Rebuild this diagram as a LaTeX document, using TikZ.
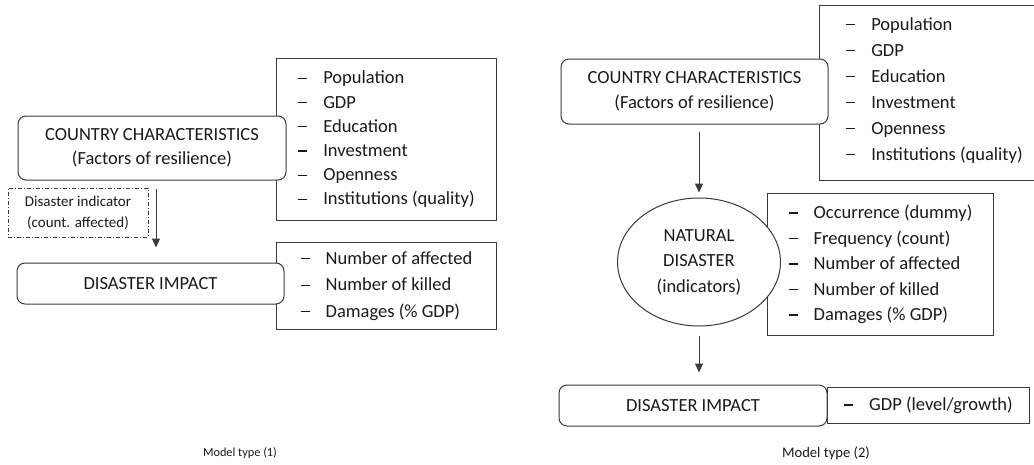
\documentclass[tikz,border=0pt]{standalone}
\usepackage{fontspec}
\setmainfont{Carlito}
\usetikzlibrary{arrows.meta, positioning, shapes.geometric}
\definecolor{inkgray}{HTML}{1A1A1A}
\definecolor{linegray}{HTML}{3A3A3A}

% one list entry: dash, gap, text
\newcommand{\entry}[1]{\makebox[25pt][l]{\rule[5pt]{9pt}{1.2pt}}#1}

\begin{document}
\begin{tikzpicture}[
  x=1pt, y=-1pt,
  every node/.style={text=inkgray},
  bigfont/.style={font=\fontsize{18.5}{24.5}\selectfont},
  factbox/.style={draw=linegray, fill=white, rounded corners=8pt, line width=1pt,
    align=center, bigfont},
  listbox/.style={draw=linegray, line width=1pt, align=left, anchor=north west,
    inner xsep=20pt, inner ysep=0pt, font=\fontsize{18.5}{25.5}\selectfont},
  hazard/.style={draw=linegray, fill=white, ellipse, line width=1pt, align=center,
    inner sep=0pt, font=\fontsize{18.5}{25.5}\selectfont},
  indicator/.style={draw=linegray, line width=0.8pt,
    dash pattern=on 4pt off 2pt on 1pt off 2pt, align=center,
    font=\fontsize{15}{21}\selectfont},
  caption/.style={font=\fontsize{12.3}{14}\selectfont},
  arrow/.style={-{Triangle[length=9pt,width=8pt]}, line width=1pt, draw=linegray}
]
\useasboundingbox (0,0) rectangle (1034,464);

% ---- model type (1) ----
\node[listbox, minimum width=220, minimum height=162,
  font=\fontsize{18.5}{24.2}\selectfont] (factsL) at (276,58)
  {\entry{Population}\\ \entry{GDP}\\ \entry{Education}\\ \entry{Investment}\\
   \entry{Openness}\\ \entry{Institutions (quality)}};
\node[listbox, minimum width=220, minimum height=87,
  font=\fontsize{18.5}{26.5}\selectfont] (lossL) at (276,242)
  {\entry{Number of affected}\\ \entry{Number of killed}\\ \entry{Damages (\% GDP)}};

\node[factbox, minimum width=268, minimum height=64] (countryL) at (152,148)
  {COUNTRY CHARACTERISTICS\\(Factors of resilience)};
\node[factbox, minimum width=267, minimum height=41] (impactL) at (150.5,283.5)
  {DISASTER IMPACT};
\node[indicator, minimum width=140, minimum height=49] (indic) at (78,212.5)
  {Disaster indicator\\(count. affected)};

\draw[arrow, shorten <=8pt, shorten >=15pt] ([xshift=4]countryL.south)
  -- ([xshift=4]countryL.south |- impactL.north);

\node[caption] (capL) at (240,453) {Model type (1)};

% ---- model type (2) ----
\node[listbox, minimum width=230, minimum height=175,
  font=\fontsize{18.5}{26}\selectfont] (factsR) at (819,5)
  {\entry{Population}\\ \entry{GDP}\\ \entry{Education}\\ \entry{Investment}\\
   \entry{Openness}\\ \entry{Institutions (quality)}\\[-18pt]};
\node[listbox, minimum width=226, minimum height=142, inner xsep=19pt] (lossR) at (767,193)
  {\entry{Occurrence (dummy)}\\ \entry{Frequency (count)}\\ \entry{Number of affected}\\
   \entry{Number of killed}\\ \entry{Damages (\% GDP)}};
\node[listbox, minimum width=202, minimum height=36, inner xsep=14pt] (gdpR) at (827,387)
  {\entry{GDP (level/growth)}};

\node[factbox, minimum width=267, minimum height=65] (countryR) at (694.5,91.5)
  {COUNTRY CHARACTERISTICS\\(Factors of resilience)};
\node[hazard, minimum width=163, minimum height=128] (disaster) at (699,262)
  {NATURAL\\DISASTER\\(indicators)};
\node[factbox, minimum width=268, minimum height=41] (impactR) at (693,405.5)
  {DISASTER IMPACT};

\draw[arrow, shorten <=7pt, shorten >=5pt] (countryR.south -| disaster.north)
  -- (disaster.north);
\draw[arrow, shorten <=9pt, shorten >=12pt] (disaster.south)
  -- (disaster.south |- impactR.north);

\node[caption, font=\fontsize{14.6}{16}\selectfont] (capR) at (826,453) {Model type (2)};
\end{tikzpicture}
\end{document}
